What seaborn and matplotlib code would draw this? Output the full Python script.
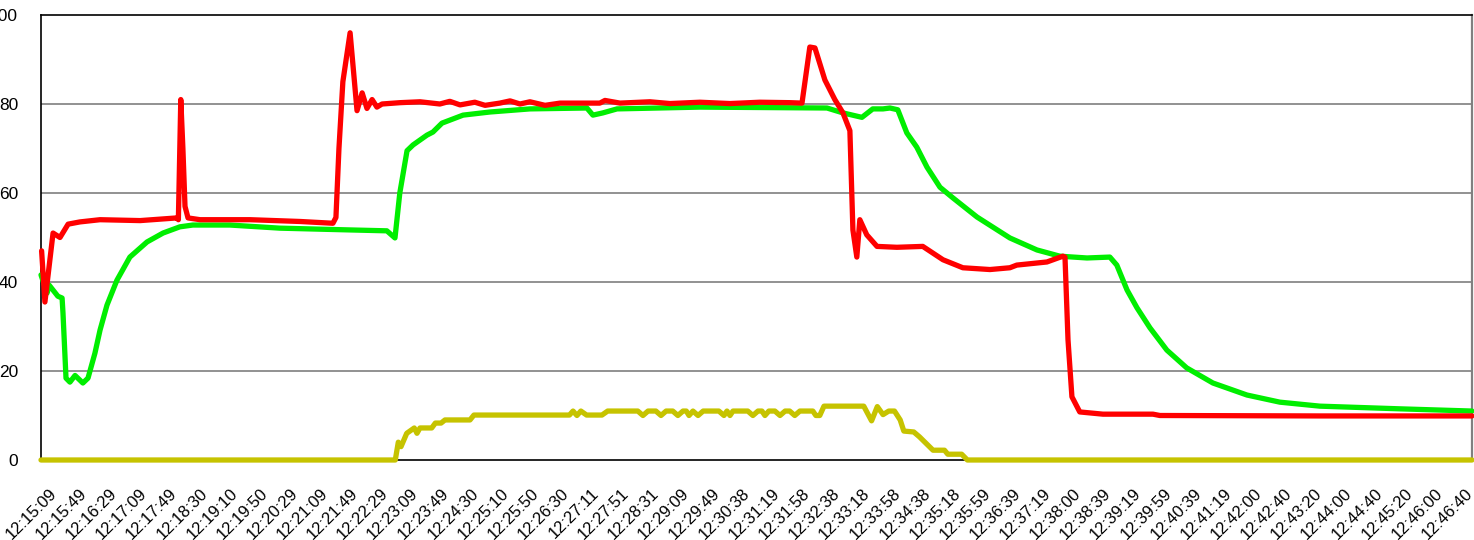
import matplotlib
matplotlib.use("Agg")
import matplotlib.pyplot as plt
import matplotlib.transforms as mtrans
import numpy as np
import pandas as pd
import seaborn as sns

# ---- data (x in tick-label index units, y in chart units) ----
tick_labels = [
    "12:15:09", "12:15:49", "12:16:29", "12:17:09", "12:17:49", "12:18:30",
    "12:19:10", "12:19:50", "12:20:29", "12:21:09", "12:21:49", "12:22:29",
    "12:23:09", "12:23:49", "12:24:30", "12:25:10", "12:25:50", "12:26:30",
    "12:27:11", "12:27:51", "12:28:31", "12:29:09", "12:29:49", "12:30:38",
    "12:31:19", "12:31:58", "12:32:38", "12:33:18", "12:33:58", "12:34:38",
    "12:35:18", "12:35:59", "12:36:39", "12:37:19", "12:38:00", "12:38:39",
    "12:39:19", "12:39:59", "12:40:39", "12:41:19", "12:42:00", "12:42:40",
    "12:43:20", "12:44:00", "12:44:40", "12:45:20", "12:46:00", "12:46:40",
]

red_x = [0.02, 0.13, 0.40, 0.63, 0.90, 1.29, 1.96, 3.29, 4.51, 4.56, 4.64, 4.71,
         4.78, 4.88, 5.28, 6.94, 8.60, 9.69, 9.79, 9.89, 10.02, 10.26, 10.49,
         10.66, 10.82, 10.99, 11.15, 11.32, 11.92, 12.58, 13.24, 13.57, 13.91,
         14.40, 14.74, 15.23, 15.57, 15.90, 16.23, 16.73, 17.23, 18.55, 18.72,
         19.22, 20.21, 20.88, 21.87, 22.87, 23.86, 24.86, 25.26, 25.52, 25.69,
         26.02, 26.35, 26.62, 26.85, 26.95, 27.08, 27.18, 27.41, 27.75, 28.41,
         29.27, 29.94, 30.60, 31.50, 32.16, 32.39, 33.39, 33.92, 33.99, 34.09,
         34.22, 34.48, 35.25, 36.91, 37.14, 42.45, 47.50]
red_y = [47.0, 35.5, 51.0, 50.0, 53.0, 53.5, 54.0, 53.8, 54.4, 54.0, 81.0, 70.0,
         57.0, 54.4, 54.0, 54.0, 53.6, 53.2, 54.5, 70.0, 85.0, 96.0, 78.5,
         82.5, 79.0, 81.0, 79.3, 80.0, 80.3, 80.5, 80.0, 80.6, 79.8,
         80.4, 79.7, 80.2, 80.7, 80.0, 80.5, 79.7, 80.2, 80.2, 80.8,
         80.2, 80.5, 80.1, 80.4, 80.1, 80.4, 80.3, 80.2, 92.8, 92.6,
         85.4, 81.0, 78.0, 74.0, 51.7, 45.6, 54.0, 50.6, 48.0, 47.8,
         48.0, 45.0, 43.2, 42.8, 43.2, 43.8, 44.5, 45.8, 45.6, 27.0,
         14.2, 10.8, 10.3, 10.3, 10.0, 9.9, 9.9]

green_x = [0.00, 0.20, 0.27, 0.56, 0.70, 0.73, 0.83, 0.96, 1.13, 1.39, 1.56, 1.79,
           1.96, 2.19, 2.52, 2.95, 3.52, 4.05, 4.61, 5.04, 6.27, 7.93, 10.26,
           11.48, 11.75, 11.91, 12.15, 12.35, 12.81, 13.01, 13.31, 14.01, 14.90,
           16.23, 18.12, 18.32, 18.65, 19.12, 21.87, 26.09, 26.62, 27.25, 27.61,
           27.95, 28.18, 28.44, 28.74, 29.07, 29.41, 29.84, 30.27, 31.07, 32.16,
           33.06, 33.82, 34.72, 35.48, 35.71, 36.05, 36.38, 36.81, 37.37, 38.03,
           38.90, 40.03, 41.12, 42.45, 45.10, 47.50]
green_y = [41.6, 37.5, 39.3, 36.8, 36.4, 33.0, 18.4, 17.5, 19.0, 17.3, 18.4, 24.0,
           29.2, 34.8, 40.4, 45.6, 49.0, 51.0, 52.4, 52.8, 52.8, 52.1, 51.7,
           51.5, 49.9, 60.0, 69.5, 70.8, 73.0, 73.7, 75.7, 77.5, 78.2,
           78.9, 79.1, 77.5, 78.0, 78.9, 79.3, 79.1, 78.0, 77.0, 78.9,
           78.9, 79.1, 78.7, 73.5, 70.3, 65.8, 61.3, 58.9, 54.6, 49.9,
           47.2, 45.8, 45.4, 45.6, 43.8, 38.2, 34.2, 29.7, 24.7, 20.7,
           17.3, 14.6, 13.0, 12.1, 11.5, 11.0]

yellow_x = [0.00, 11.76, 11.86, 11.95, 12.14, 12.39, 12.48, 12.58, 12.97, 13.09,
            13.28, 13.41, 14.24, 14.37, 17.54, 17.66, 17.79, 17.92, 18.11, 18.62,
            18.81, 19.81, 19.98, 20.15, 20.41, 20.58, 20.75, 20.97, 21.14, 21.31,
            21.42, 21.51, 21.64, 21.81, 21.98, 22.50, 22.67, 22.77, 22.87, 22.97,
            23.46, 23.63, 23.80, 23.93, 24.03, 24.16, 24.36, 24.53, 24.70, 24.85,
            25.02, 25.19, 25.62, 25.72, 25.85, 25.99, 27.31, 27.57, 27.76, 27.95,
            28.14, 28.33, 28.52, 28.64, 28.97, 29.16, 29.34, 29.61, 29.99, 30.10,
            30.56, 30.75, 47.50]
yellow_y = [0.0, 0.0, 4.0, 3.0, 6.0, 7.2, 6.0, 7.2, 7.2, 8.3,
            8.3, 9.0, 9.0, 10.1, 10.1, 11.0, 10.0, 11.0, 10.1, 10.1,
            11.0, 11.0, 10.0, 11.0, 11.0, 10.0, 11.0, 11.0, 10.0, 11.0,
            11.0, 10.0, 11.0, 10.0, 11.0, 11.0, 10.0, 11.0, 10.0, 11.0,
            11.0, 10.0, 11.0, 11.0, 10.0, 11.0, 11.0, 10.0, 11.0, 11.0,
            10.0, 11.0, 11.0, 10.0, 10.0, 12.1, 12.1, 8.8, 12.0, 10.2,
            11.0, 11.0, 9.0, 6.5, 6.3, 5.2, 4.0, 2.2, 2.2, 1.3,
            1.3, 0.0, 0.0]

# ---- style ----
sns.set_style("white")
plt.rcParams["font.family"] = ["Liberation Sans", "DejaVu Sans"]

W, H = 1474, 540
fig = plt.figure(figsize=(W / 100, H / 100), dpi=100)
ax = fig.add_axes([41 / W, 80 / H, 1431 / W, 445 / H])

grid_c = "#7f7f7f"
for yv in [20, 40, 60, 80]:
    ax.axhline(yv, color=grid_c, lw=1.2, zorder=1)

lw = 3.8
sns.lineplot(x=np.array(green_x), y=np.array(green_y), ax=ax, color="#00EE00",
             lw=lw, estimator=None, sort=False, zorder=3, clip_on=False)
sns.lineplot(x=np.array(red_x), y=np.array(red_y), ax=ax, color="#FF0000",
             lw=lw, estimator=None, sort=False, zorder=4, clip_on=False)
sns.lineplot(x=np.array(yellow_x), y=np.array(yellow_y), ax=ax, color="#C6C300",
             lw=lw, estimator=None, sort=False, zorder=5, clip_on=False)

ax.set_xlim(0, 47.5)
ax.set_ylim(0, 100)
ax.set_xlabel("")
ax.set_ylabel("")

ax.set_yticks([0, 20, 40, 60, 80, 100])
ax.set_yticklabels(["0", "20", "40", "60", "80", "100"])
ax.tick_params(axis="y", length=0, pad=16.5, labelsize=12.5, colors="black")

ax.set_xticks(range(len(tick_labels)))
ax.set_xticklabels(tick_labels, rotation=45, ha="right", va="top",
                   rotation_mode="anchor")
ax.tick_params(axis="x", length=0, pad=18.5, labelsize=12, colors="black")
offset = mtrans.ScaledTranslation(8 / 100, 0, fig.dpi_scale_trans)
for lab in ax.get_xticklabels():
    lab.set_transform(lab.get_transform() + offset)

for side in ["left", "top", "bottom"]:
    ax.spines[side].set_color("black")
    ax.spines[side].set_linewidth(1.2)
    ax.spines[side].set_visible(True)
ax.spines["right"].set_color("#808080")
ax.spines["right"].set_linewidth(1.6)
ax.spines["right"].set_visible(True)
ax.grid(False)

fig.savefig("out.png", dpi=100)
